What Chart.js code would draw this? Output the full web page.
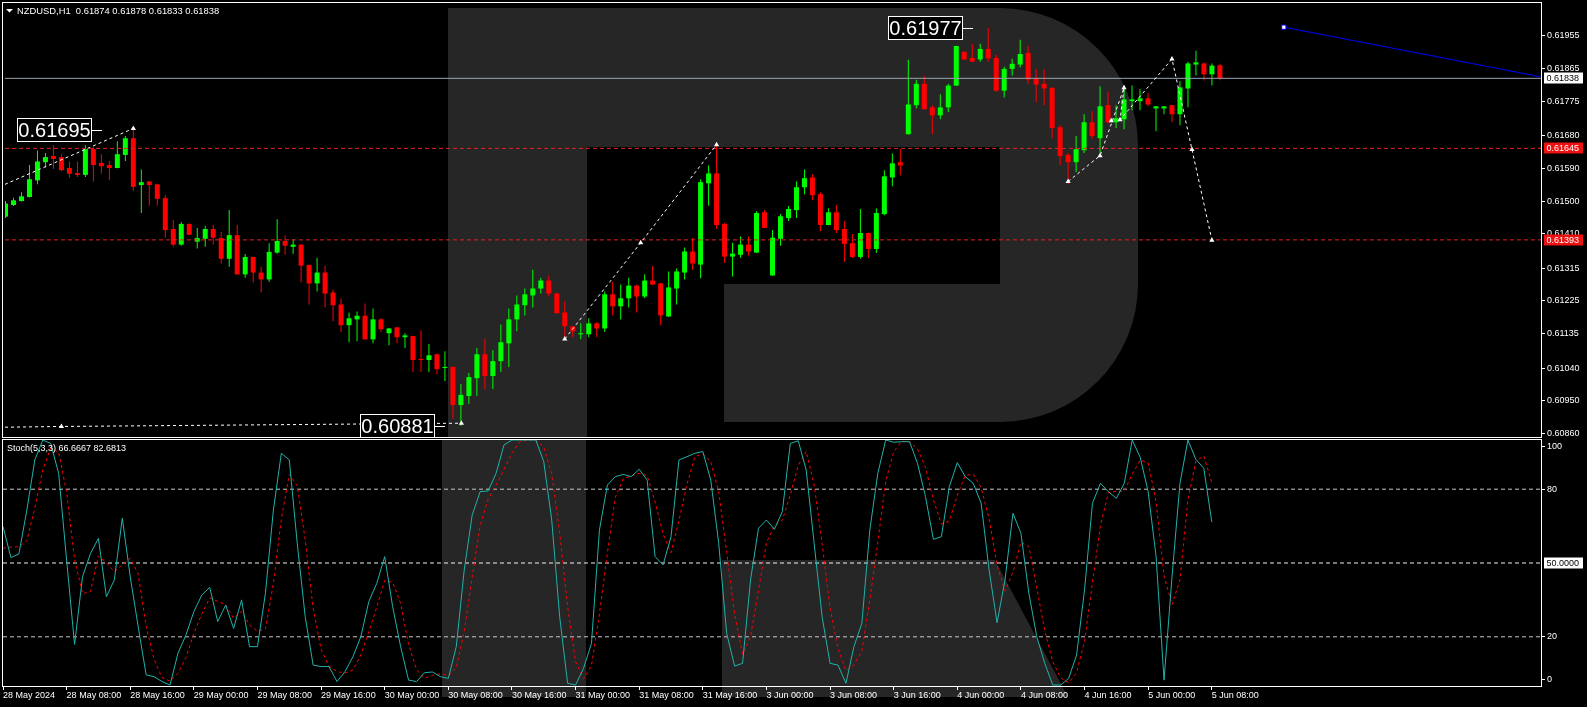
<!DOCTYPE html>
<html><head><meta charset="utf-8">
<script src="https://cdn.jsdelivr.net/npm/chart.js@4.4.0/dist/chart.umd.min.js"></script>
<style>
html,body{margin:0;padding:0;background:#000;overflow:hidden;}
#wrap{position:relative;width:1587px;height:707px;}
canvas{position:absolute;left:0;top:0;}
</style></head><body>
<div id="wrap"><canvas id="main" width="1587" height="707"></canvas><canvas id="stoch" width="1587" height="707"></canvas></div>
<script>
// ---------- DATA ----------
const symbolTitle = 'NZDUSD,H1  0.61874 0.61878 0.61833 0.61838';
const stochTitle = 'Stoch(5,3,3) 66.6667 82.6813';

const open = [0.61457,0.61489,0.61500,0.61511,0.61557,0.61607,0.61624,0.61621,0.61591,0.61577,
0.61572,0.61643,0.61605,0.61599,0.61591,0.61627,0.61673,0.61544,0.61554,0.61546,
0.61508,0.61423,0.61380,0.61437,0.61388,0.61396,0.61423,0.61398,0.61341,0.61406,
0.61298,0.61346,0.61303,0.61284,0.61358,0.61390,0.61374,0.61380,0.61324,0.61273,
0.61303,0.61248,0.61215,0.61158,0.61174,0.61184,0.61119,0.61174,0.61136,0.61152,
0.61125,0.61128,0.61064,0.61062,0.61078,0.61040,0.61043,0.60938,0.60963,0.61012,
0.61078,0.61018,0.61059,0.61108,0.61174,0.61213,0.61240,0.61259,0.61281,0.61245,
0.61193,0.61155,0.61133,0.61133,0.61163,0.61149,0.61243,0.61210,0.61232,0.61267,
0.61237,0.61281,0.61273,0.61182,0.61259,0.61303,0.61361,0.61325,0.61549,0.61576,
0.61437,0.61347,0.61352,0.61380,0.61358,0.61469,0.61295,0.61396,0.61453,0.61475,
0.61538,0.61565,0.61519,0.61434,0.61469,0.61423,0.61384,0.61346,0.61412,0.61368,
0.61464,0.61565,0.61607,0.61684,0.61764,0.61823,0.61758,0.61736,0.61758,0.61818,
0.61911,0.61894,0.61890,0.61919,0.61894,0.61804,0.61864,0.61876,0.61908,0.61837,
0.61823,0.61812,0.61703,0.61627,0.61607,0.61640,0.61717,0.61673,0.61764,0.61717,
0.61725,0.61775,0.61775,0.61783,0.61755,0.61755,0.61764,0.61739,0.61810,0.61876,
0.61879,0.61849,0.61874];
const high = [0.61500,0.61509,0.61524,0.61599,0.61639,0.61632,0.61654,0.61629,0.61609,0.61609,
0.61654,0.61649,0.61629,0.61610,0.61665,0.61679,0.61695,0.61587,0.61555,0.61547,
0.61516,0.61448,0.61442,0.61438,0.61426,0.61431,0.61434,0.61415,0.61475,0.61434,
0.61354,0.61347,0.61319,0.61384,0.61450,0.61406,0.61395,0.61381,0.61325,0.61344,
0.61322,0.61256,0.61232,0.61193,0.61196,0.61218,0.61204,0.61177,0.61150,0.61153,
0.61136,0.61129,0.61144,0.61106,0.61079,0.61086,0.61044,0.60996,0.61026,0.61095,
0.61119,0.61089,0.61160,0.61204,0.61240,0.61259,0.61311,0.61289,0.61295,0.61248,
0.61224,0.61156,0.61163,0.61177,0.61166,0.61251,0.61278,0.61270,0.61289,0.61270,
0.61298,0.61322,0.61274,0.61306,0.61314,0.61372,0.61399,0.61560,0.61598,0.61655,
0.61440,0.61385,0.61402,0.61402,0.61472,0.61475,0.61420,0.61464,0.61486,0.61554,
0.61587,0.61574,0.61524,0.61480,0.61489,0.61445,0.61409,0.61478,0.61413,0.61480,
0.61585,0.61631,0.61643,0.61889,0.61834,0.61845,0.61764,0.61794,0.61823,0.61928,
0.61912,0.61933,0.61933,0.61977,0.61903,0.61870,0.61892,0.61944,0.61927,0.61864,
0.61862,0.61813,0.61709,0.61632,0.61679,0.61739,0.61747,0.61816,0.61802,0.61764,
0.61818,0.61818,0.61808,0.61797,0.61762,0.61762,0.61765,0.61830,0.61884,0.61914,
0.61882,0.61879,0.61878];
const low = [0.61453,0.61486,0.61499,0.61510,0.61546,0.61593,0.61588,0.61582,0.61564,0.61566,
0.61566,0.61554,0.61576,0.61557,0.61590,0.61610,0.61528,0.61467,0.61487,0.61487,
0.61399,0.61374,0.61377,0.61406,0.61369,0.61374,0.61380,0.61328,0.61319,0.61297,
0.61289,0.61276,0.61248,0.61278,0.61355,0.61352,0.61355,0.61276,0.61215,0.61251,
0.61207,0.61169,0.61139,0.61111,0.61114,0.61118,0.61108,0.61139,0.61103,0.61108,
0.61095,0.61029,0.61029,0.61029,0.61023,0.61004,0.60900,0.60881,0.60941,0.60963,
0.60982,0.60982,0.61029,0.61043,0.61141,0.61185,0.61207,0.61245,0.61237,0.61190,
0.61122,0.61125,0.61119,0.61125,0.61125,0.61139,0.61185,0.61174,0.61207,0.61193,
0.61232,0.61269,0.61158,0.61181,0.61215,0.61284,0.61311,0.61287,0.61487,0.61423,
0.61330,0.61292,0.61344,0.61350,0.61357,0.61425,0.61294,0.61377,0.61445,0.61453,
0.61519,0.61502,0.61417,0.61433,0.61412,0.61332,0.61343,0.61341,0.61343,0.61357,
0.61461,0.61541,0.61571,0.61683,0.61755,0.61752,0.61684,0.61725,0.61745,0.61817,
0.61889,0.61883,0.61884,0.61884,0.61801,0.61785,0.61846,0.61868,0.61824,0.61772,
0.61764,0.61673,0.61599,0.61547,0.61580,0.61632,0.61670,0.61632,0.61714,0.61701,
0.61698,0.61750,0.61750,0.61761,0.61692,0.61739,0.61717,0.61709,0.61758,0.61846,
0.61832,0.61818,0.61833];
const close = [0.61493,0.61502,0.61513,0.61560,0.61609,0.61621,0.61616,0.61585,0.61575,0.61572,
0.61643,0.61599,0.61596,0.61591,0.61629,0.61673,0.61539,0.61552,0.61544,0.61506,
0.61420,0.61380,0.61437,0.61407,0.61398,0.61423,0.61399,0.61341,0.61406,0.61298,
0.61346,0.61303,0.61284,0.61360,0.61390,0.61377,0.61380,0.61322,0.61273,0.61303,
0.61245,0.61213,0.61158,0.61177,0.61184,0.61119,0.61174,0.61147,0.61149,0.61125,
0.61130,0.61062,0.61062,0.61075,0.61037,0.61043,0.60938,0.60966,0.61015,0.61078,
0.61018,0.61059,0.61111,0.61174,0.61215,0.61243,0.61259,0.61281,0.61245,0.61191,
0.61155,0.61141,0.61136,0.61163,0.61149,0.61243,0.61210,0.61232,0.61267,0.61237,
0.61281,0.61270,0.61185,0.61262,0.61306,0.61361,0.61328,0.61552,0.61576,0.61434,
0.61347,0.61355,0.61380,0.61361,0.61467,0.61426,0.61399,0.61458,0.61478,0.61538,
0.61563,0.61516,0.61434,0.61469,0.61420,0.61382,0.61346,0.61412,0.61368,0.61467,
0.61568,0.61604,0.61598,0.61766,0.61823,0.61753,0.61736,0.61758,0.61818,0.61927,
0.61890,0.61884,0.61919,0.61893,0.61804,0.61864,0.61878,0.61905,0.61835,0.61821,
0.61810,0.61701,0.61624,0.61607,0.61643,0.61717,0.61679,0.61761,0.61717,0.61728,
0.61780,0.61780,0.61783,0.61766,0.61761,0.61761,0.61739,0.61813,0.61879,0.61882,
0.61849,0.61873,0.61838];

const stochK = [64.8,52.2,53.7,71.5,91.9,100,98.6,86.4,51.2,16.9,
44.4,53.9,60.0,36.3,43.1,68.2,44.4,24.1,4.5,3.8,
1.8,0.4,13.3,20.7,30.2,37.0,40.1,26.2,32.9,23.4,
35.0,16.0,16.0,37.7,71.5,94.6,91.9,58.0,28.2,8.5,
7.9,7.9,1.8,5.8,11.9,20.1,34.3,41.7,52.6,32.2,
16.0,2.4,1.8,5.4,5.7,3.8,3.1,16.0,47.2,69.5,
79.0,79.3,86.4,98.0,100,100,100,100,91.2,67.5,
28.2,1.1,0.4,7.2,17.3,63.4,81.7,85.1,86.0,85.1,
88.1,83.7,52.6,49.2,60.7,91.9,93.2,94.6,95.3,83.7,
58.0,21.4,8.1,9.2,43.1,64.1,67.5,63.7,70.9,98.6,
99.7,87.8,58.0,28.2,9.2,8.5,1.1,16.0,25.5,63.4,
86.4,100,99.1,99.3,99.3,90.5,77.0,59.6,60.7,81.0,
90.8,85.1,82.4,74.3,47.2,25.7,43.1,70.2,62.1,37.7,
20.0,9.2,0.4,0.4,3.1,12.6,39.0,74.3,82.4,79.0,
76.3,82.4,100,93.0,79.0,52.6,2.4,44.4,82.4,100,
92.1,88.5,66.6667];
const stochD = [56.0,56.5,56.6,59.1,72.4,87.8,96.8,95.0,78.7,51.5,
37.5,38.4,52.8,50.1,46.5,49.2,51.9,45.6,24.3,10.8,
3.4,2.0,5.2,11.5,21.4,29.3,35.8,34.4,33.1,27.5,
30.4,24.8,22.3,23.2,41.7,67.9,86.0,81.5,59.4,31.6,
14.9,8.1,5.9,5.2,6.5,12.6,22.1,32.0,42.9,42.2,
33.6,16.9,6.7,3.2,4.3,5.0,4.2,7.6,22.1,44.2,
65.2,75.9,81.6,87.9,94.8,99.3,100,100,97.1,86.2,
62.3,32.3,9.9,2.9,8.3,29.3,54.1,76.7,84.3,85.4,
86.4,85.6,74.8,61.8,54.2,67.3,81.9,93.2,94.4,91.2,
79.0,54.4,29.2,12.9,20.1,38.8,58.2,65.1,67.4,77.7,
89.7,95.4,81.8,58.0,31.8,15.3,6.3,8.5,14.2,35.0,
58.4,83.3,95.2,99.5,99.2,96.4,88.9,75.7,65.8,67.1,
77.5,85.6,86.1,80.6,68.0,49.1,38.7,46.3,58.5,56.7,
39.9,22.3,9.9,3.3,1.3,5.4,18.2,42.0,65.2,78.6,
79.2,79.2,86.2,91.8,90.7,74.9,44.7,33.1,43.1,75.6,
91.5,93.5,82.6813];

const timeLabels = ['28 May 2024','28 May 08:00','28 May 16:00','29 May 00:00','29 May 08:00','29 May 16:00',
'30 May 00:00','30 May 08:00','30 May 16:00','31 May 00:00','31 May 08:00','31 May 16:00',
'3 Jun 00:00','3 Jun 08:00','3 Jun 16:00','4 Jun 00:00','4 Jun 08:00','4 Jun 16:00','5 Jun 00:00','5 Jun 08:00'];
const timeLabelIdx = [0,8,16,24,32,40,48,56,64,72,80,88,96,104,112,120,128,136,144,152];
const priceTicks = [0.60860,0.60950,0.61040,0.61135,0.61225,0.61315,0.61410,0.61500,0.61590,0.61680,0.61775,0.61865,0.61955];
const stochTickValues = [2.6,20,80,97.3];
const stochTickLabels = ['0','20','80','100'];
const stochLevels = [20,50,80];

const bidPrice = 0.61838;
const levelPrices = [0.61645,0.61393];

// analysis drawings (bar index, price)
const zigzagA = [{x:-0.06,y:0.61546},{x:15.8,y:0.61698}];
const zigzagB = [{x:-0.06,y:0.60877},{x:7,y:0.60879},{x:57,y:0.60888}];
const zigzagC = [{x:70,y:0.61120},{x:79.5,y:0.61385},{x:89,y:0.61655}];
const zigzagD = [{x:133,y:0.61554},{x:137,y:0.61625},{x:140,y:0.61812},{x:139.5,y:0.61724},{x:146,y:0.61891},{x:148.5,y:0.61642},{x:151,y:0.61392}];
const arrowMarks = [{x:16,y:0.61700},{x:7,y:0.60879},{x:57.06,y:0.60888},{x:70,y:0.61120},{x:79.5,y:0.61385},{x:89,y:0.61655},
{x:133,y:0.61554},{x:137,y:0.61625},{x:138.4,y:0.61721},{x:139.5,y:0.61724},{x:140,y:0.61812},{x:146,y:0.61891},{x:148.5,y:0.61642},{x:151,y:0.61392}];
const trendLine = [{x:160,y:0.61979},{x:192.19,y:0.61842}];
const priceLabels = [{text:'0.61695',price:0.61695,idx:10.8},{text:'0.60881',price:0.60881,idx:53.7},{text:'0.61977',price:0.61977,idx:119.8}];

// ---------- STYLE ----------
const FONT = "'Liberation Sans', Arial, sans-serif";
const GREEN = '#00ff00', RED = '#ff0000';
const LOGO = '#262626';
const xMinMain = -0.0625, xMaxMain = 192.1875;

const candleColor = ctx => (close[ctx.dataIndex] >= open[ctx.dataIndex] ? GREEN : RED);
const hLine = v => [{x:xMinMain,y:v},{x:xMaxMain,y:v}];

function drawLogo(c){
  c.fillStyle = LOGO;
  c.beginPath();
  c.moveTo(448,8); c.lineTo(1000,8);
  c.arcTo(1138,8,1138,146,138);
  c.lineTo(1138,284);
  c.arcTo(1138,422,1000,422,138);
  c.lineTo(724,422); c.lineTo(724,284); c.lineTo(1000,284); c.lineTo(1000,147);
  c.lineTo(587,147); c.lineTo(587,437); c.lineTo(448,437);
  c.closePath(); c.fill();
  c.fillRect(442,440,144,257);
  c.beginPath();
  c.moveTo(722,560); c.lineTo(995,560); c.lineTo(1068,697); c.lineTo(722,697);
  c.closePath(); c.fill();
}

function boxLabel(c, text, y, bg, fg){
  const yy = Math.round(y);
  c.fillStyle = bg; c.fillRect(1544, yy-5.5, 39, 11);
  c.fillStyle = fg; c.font = '9px ' + FONT; c.textAlign='left'; c.textBaseline='middle';
  c.fillText(text, 1546.5, yy+0.5);
}

const mainDecor = {
  id:'mainDecor',
  beforeDraw(chart){
    const c = chart.ctx; c.save();
    c.fillStyle = '#000'; c.fillRect(0,0,chart.width,chart.height);
    drawLogo(c);
    c.restore();
  },
  afterDatasetsDraw(chart){
    const c = chart.ctx, xs = chart.scales.x, ys = chart.scales.y;
    c.save();
    c.beginPath(); c.rect(chart.chartArea.left, chart.chartArea.top, chart.chartArea.width, chart.chartArea.height); c.clip();
    c.font = '20px ' + FONT; c.textBaseline = 'middle'; c.textAlign = 'center';
    priceLabels.forEach(p => {
      const xr = Math.round(xs.getPixelForValue(p.idx)), y = Math.round(ys.getPixelForValue(p.price));
      const w = 75, h = 24;
      c.fillStyle = '#000'; c.fillRect(xr-w, y-h/2, w, h);
      c.strokeStyle = '#fff'; c.lineWidth = 1; c.strokeRect(xr-w+0.5, y-h/2+0.5, w-1, h-1);
      c.fillStyle = '#fff'; c.fillText(p.text, xr-w/2, y+1);
      c.beginPath(); c.moveTo(xr, y+0.5); c.lineTo(xr+10, y+0.5); c.stroke();
    });
    c.restore();
  },
  afterDraw(chart){
    const c = chart.ctx, ys = chart.scales.y;
    c.save();
    c.strokeStyle = '#fff'; c.lineWidth = 1;
    c.strokeRect(2.5, 2.5, 1539, 435);
    c.fillStyle = '#fff';
    c.beginPath(); c.moveTo(6,9); c.lineTo(13,9); c.lineTo(9.5,12.5); c.closePath(); c.fill();
    c.font = '9.4px ' + FONT; c.textAlign = 'left'; c.textBaseline = 'middle';
    c.fillText(symbolTitle, 17, 11);
    boxLabel(c, bidPrice.toFixed(5), ys.getPixelForValue(bidPrice), '#fff', '#000');
    levelPrices.forEach(v => boxLabel(c, v.toFixed(5), ys.getPixelForValue(v), '#ee1111', '#fff'));
    c.restore();
  }
};

new Chart(document.getElementById('main'), {
  type: 'bar',
  data: { datasets: [
    {type:'line', data: zigzagA, borderColor:'#fff', borderWidth:1, borderDash:[3,3], pointRadius:0, order:3},
    {type:'line', data: zigzagB, borderColor:'#fff', borderWidth:1, borderDash:[3,3], pointRadius:0, order:3},
    {type:'line', data: zigzagC, borderColor:'#fff', borderWidth:1, borderDash:[3,3], pointRadius:0, order:3},
    {type:'line', data: zigzagD, borderColor:'#fff', borderWidth:1, borderDash:[3,3], pointRadius:0, order:3},
    {type:'line', data: arrowMarks, showLine:false, pointStyle:'triangle', pointRadius:3, pointBackgroundColor:'#fff', pointBorderColor:'#fff', pointBorderWidth:0, order:2},
    {type:'line', data: trendLine, borderColor:'#0000ff', borderWidth:1, pointStyle:'rect', pointRadius:[3,0], pointBackgroundColor:'#fff', pointBorderColor:'#0000ff', pointBorderWidth:1, order:2},
    {type:'line', data: hLine(bidPrice), borderColor:'#9aa3ad', borderWidth:1, pointRadius:0, order:6},
    {type:'line', data: hLine(levelPrices[0]), borderColor:'#e52222', borderWidth:1, borderDash:[4,3], pointRadius:0, order:5},
    {type:'line', data: hLine(levelPrices[1]), borderColor:'#e52222', borderWidth:1, borderDash:[4,3], pointRadius:0, order:5},
    {type:'bar', data: high.map((h,i)=>({x:i,y:[low[i],h]})), backgroundColor: candleColor, grouped:false, maxBarThickness:1, borderWidth:0, inflateAmount:0, order:11},
    {type:'bar', data: open.map((o,i)=>({x:i,y:[o,close[i]]})), backgroundColor: candleColor, grouped:false, maxBarThickness:5, minBarLength:1, borderWidth:0, inflateAmount:0, order:10}
  ]},
  options: {
    responsive:false, animation:false, devicePixelRatio:1, events:[],
    layout:{padding:{left:3, top:3, right:0, bottom:270}},
    plugins:{legend:{display:false}, tooltip:{enabled:false}},
    scales:{
      x:{type:'linear', min:xMinMain, max:xMaxMain, display:false, offset:false},
      y:{type:'linear', position:'right', min:0.60850, max:0.62040,
         afterBuildTicks: s => { s.ticks = priceTicks.map(v=>({value:v})); },
         afterFit: s => { s.width = 46; s.paddingTop = 0; s.paddingBottom = 0; },
         border:{display:false},
         grid:{drawOnChartArea:false, drawTicks:true, tickLength:4, color:'#fff'},
         ticks:{color:'#fff', padding:2, font:{family:FONT, size:9}, callback: v => Number(v).toFixed(5)}}
    }
  },
  plugins:[mainDecor]
});

// ---------- STOCHASTIC ----------
const xMaxStoch = 193.4;
const stochDecor = {
  id:'stochDecor',
  afterDraw(chart){
    const c = chart.ctx, ys = chart.scales.y;
    c.save();
    c.strokeStyle = '#fff'; c.lineWidth = 1;
    c.strokeRect(2.5, 439.5, 1539, 247);
    c.fillStyle = '#fff'; c.font = '9px ' + FONT; c.textAlign='left'; c.textBaseline='middle';
    c.fillText(stochTitle, 7, 448.5);
    boxLabel(c, (50).toFixed(4), ys.getPixelForValue(50), '#fff', '#000');
    c.restore();
  }
};
const lvl = v => [{x:0,y:v},{x:xMaxStoch,y:v}];
new Chart(document.getElementById('stoch'), {
  type:'line',
  data:{ datasets:[
    {data: stochK.map((v,i)=>({x:i,y:v})), borderColor:'#20b2aa', borderWidth:1, pointRadius:0, tension:0, order:1},
    {data: stochD.map((v,i)=>({x:i,y:v})), borderColor:'#ff0000', borderWidth:1, borderDash:[3,3], pointRadius:0, tension:0, order:2},
    {data: lvl(stochLevels[0]), borderColor:'#c8c8c8', borderWidth:1, borderDash:[4,3], pointRadius:0, order:3},
    {data: lvl(stochLevels[1]), borderColor:'#f0f0f0', borderWidth:1, borderDash:[4,3], pointRadius:0, order:3},
    {data: lvl(stochLevels[2]), borderColor:'#c8c8c8', borderWidth:1, borderDash:[4,3], pointRadius:0, order:3}
  ]},
  options:{
    responsive:false, animation:false, devicePixelRatio:1, events:[],
    layout:{padding:{left:3, top:440, right:0, bottom:0}},
    plugins:{legend:{display:false}, tooltip:{enabled:false}},
    scales:{
      x:{type:'linear', min:0, max:xMaxStoch, offset:false,
         afterBuildTicks: s => { s.ticks = timeLabelIdx.map(v=>({value:v})); },
         afterFit: s => { s.height = 21; s.paddingLeft = 0; s.paddingRight = 0; },
         border:{display:false},
         grid:{drawOnChartArea:false, drawTicks:true, tickLength:4, color:'#fff'},
         ticks:{color:'#fff', padding:0, align:'start', autoSkip:false, maxRotation:0, minRotation:0,
                font:{family:FONT, size:9}, callback:(v,i)=>timeLabels[i]}},
      y:{type:'linear', position:'right', min:0, max:100,
         afterBuildTicks: s => { s.ticks = stochTickValues.map(v=>({value:v})); },
         afterFit: s => { s.width = 46; s.paddingTop = 0; s.paddingBottom = 0; },
         border:{display:false},
         grid:{drawOnChartArea:false, drawTicks:true, tickLength:4, color:'#fff'},
         ticks:{color:'#fff', padding:2, font:{family:FONT, size:9}, callback:(v,i)=>stochTickLabels[i]}}
    }
  },
  plugins:[stochDecor]
});
</script>
</body></html>
